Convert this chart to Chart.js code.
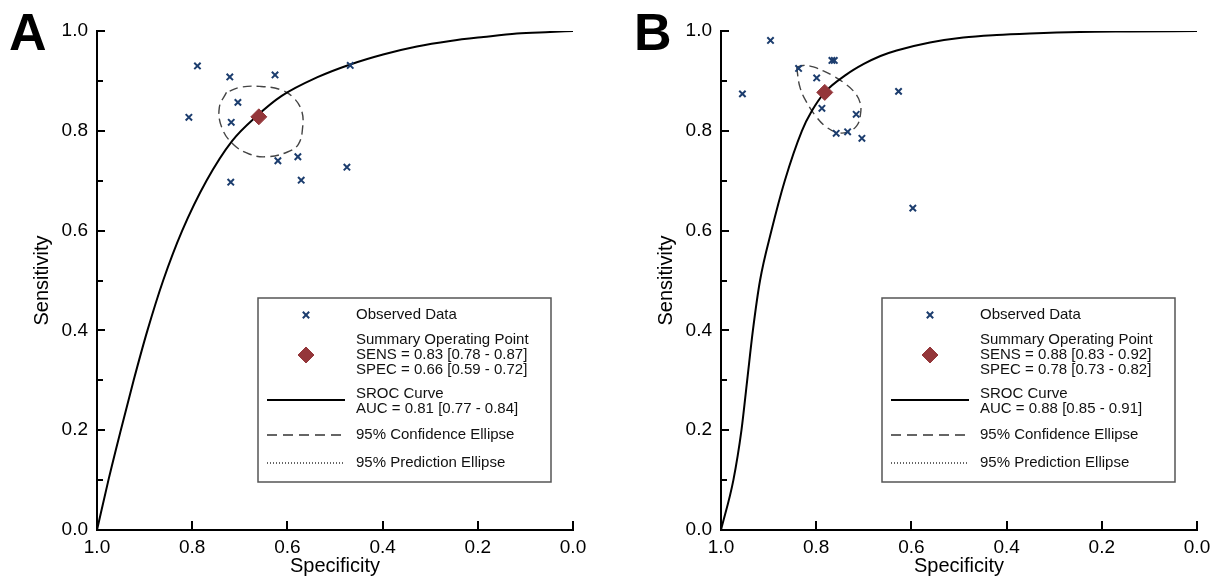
<!DOCTYPE html>
<html>
<head>
<meta charset="utf-8">
<title>SROC curves</title>
<script src="https://cdn.jsdelivr.net/npm/chart.js@4.4.1/dist/chart.umd.min.js"></script>
<style>
  body { margin: 0; background: #fff; width: 1224px; height: 579px; overflow: hidden; position: relative; }
  .panel { position: absolute; top: 0; width: 600px; height: 579px; }
  .tag { position: absolute; top: 6px; font: bold 52px "Liberation Sans", Arial, sans-serif; line-height: 52px; color: #000; }
</style>
</head>
<body>
<div class="panel" style="left:0"><canvas id="chartA" width="600" height="579"></canvas></div>
<div class="panel" style="left:624px"><canvas id="chartB" width="600" height="579"></canvas></div>
<div class="tag" style="left:9px">A</div>
<div class="tag" style="left:634px">B</div>
<script>
// panel A - observed studies
const obsSpecA = [0.789, 0.721, 0.626, 0.468, 0.704, 0.807, 0.718, 0.620, 0.578, 0.475, 0.719, 0.571];
const obsSensA = [0.930, 0.908, 0.912, 0.931, 0.857, 0.827, 0.817, 0.740, 0.748, 0.727, 0.697, 0.701];
const sumSpecA = [0.66];
const sumSensA = [0.828];
// SROC curve A
const curveSpecA = [1.0, 0.976, 0.950, 0.923, 0.894, 0.861, 0.821, 0.770, 0.716, 0.664, 0.612, 0.538, 0.468, 0.399, 0.328, 0.258, 0.188, 0.118, 0.048, 0.0];
const curveSensA = [0.0, 0.1, 0.2, 0.3, 0.4, 0.5, 0.6, 0.7, 0.78, 0.83, 0.87, 0.907, 0.933, 0.953, 0.969, 0.980, 0.988, 0.995, 0.998, 1.0];
// 95% confidence ellipse A
const ellSpecA = [0.728, 0.743, 0.738, 0.714, 0.679, 0.644, 0.601, 0.577, 0.568, 0.570, 0.588, 0.616, 0.658, 0.700, 0.728];
const ellSensA = [0.877, 0.847, 0.807, 0.773, 0.753, 0.748, 0.757, 0.773, 0.807, 0.840, 0.867, 0.883, 0.889, 0.887, 0.877];

// panel B
const obsSpecB = [0.896, 0.955, 0.837, 0.799, 0.767, 0.762, 0.788, 0.716, 0.758, 0.734, 0.704, 0.627, 0.597];
const obsSensB = [0.981, 0.874, 0.925, 0.906, 0.941, 0.941, 0.845, 0.833, 0.795, 0.798, 0.785, 0.879, 0.645];
const sumSpecB = [0.782];
const sumSensB = [0.877];
const curveSpecB = [1.0, 0.974, 0.957, 0.945, 0.933, 0.918, 0.894, 0.866, 0.830, 0.809, 0.782, 0.736, 0.700, 0.665, 0.631, 0.561, 0.491, 0.421, 0.351, 0.246, 0.141, 0.0];
const curveSensB = [0.0, 0.1, 0.2, 0.3, 0.4, 0.5, 0.6, 0.7, 0.8, 0.84, 0.877, 0.913, 0.934, 0.950, 0.961, 0.977, 0.987, 0.992, 0.995, 0.998, 0.999, 1.0];
const ellSpecB = [0.841, 0.834, 0.820, 0.799, 0.778, 0.757, 0.736, 0.715, 0.707, 0.708, 0.722, 0.743, 0.764, 0.785, 0.806, 0.827, 0.841];
const ellSensB = [0.927, 0.887, 0.857, 0.827, 0.807, 0.797, 0.797, 0.810, 0.833, 0.857, 0.880, 0.897, 0.910, 0.920, 0.928, 0.931, 0.927];

const xTicks = [0, 0.2, 0.4, 0.6, 0.8, 1.0];
const legendTextA = ["Observed Data", "Summary Operating Point", "SENS = 0.83 [0.78 - 0.87]", "SPEC = 0.66 [0.59 - 0.72]", "SROC Curve", "AUC = 0.81 [0.77 - 0.84]", "95% Confidence Ellipse", "95% Prediction Ellipse"];
const legendTextB = ["Observed Data", "Summary Operating Point", "SENS = 0.88 [0.83 - 0.92]", "SPEC = 0.78 [0.73 - 0.82]", "SROC Curve", "AUC = 0.88 [0.85 - 0.91]", "95% Confidence Ellipse", "95% Prediction Ellipse"];

const FONT = '"Liberation Sans", Arial, sans-serif';
const CROSS = "#1c3d6e";
const DIAMOND = "#94363a";

function pts(xs, ys) {
  return xs.map(function (x, i) { return { x: x, y: ys[i] }; });
}

// ticks pointing into the plot
const inwardTicks = {
  id: "inwardTicks",
  afterDatasetsDraw(chart) {
    const ctx = chart.ctx;
    const x = chart.scales.x, y = chart.scales.y;
    const a = chart.chartArea;
    ctx.save();
    ctx.strokeStyle = "#000";
    ctx.lineWidth = 2;
    ctx.beginPath();
    x.ticks.forEach(function (t) {
      const px = Math.round(x.getPixelForValue(t.value));
      ctx.moveTo(px, a.bottom);
      ctx.lineTo(px, a.bottom - 9);
    });
    y.ticks.forEach(function (t, i) {
      const py = Math.round(y.getPixelForValue(t.value));
      ctx.moveTo(a.left, py);
      ctx.lineTo(a.left + (i % 2 === 0 ? 8 : 6), py);
    });
    ctx.stroke();
    ctx.restore();
  },
};

// boxed legend like the original software draws it
const boxLegend = {
  id: "boxLegend",
  afterDraw(chart, args, opts) {
    const ctx = chart.ctx;
    const a = chart.chartArea;
    const txt = opts.text;
    const w = 293, h = 184;
    const left = a.right - 22 - w;
    const top = a.bottom - 48 - h;
    ctx.save();
    ctx.fillStyle = "#fff";
    ctx.fillRect(left, top, w, h);
    ctx.strokeStyle = "#555";
    ctx.lineWidth = 1.5;
    ctx.strokeRect(left, top, w, h);

    ctx.fillStyle = DIAMOND;
    ctx.strokeStyle = DIAMOND;
    ctx.lineWidth = 1;
    Chart.helpers.drawPoint(ctx, { pointStyle: "rectRot", radius: 8, borderWidth: 1 }, left + 48, top + 57);

    ctx.strokeStyle = CROSS;
    ctx.lineWidth = 2;
    Chart.helpers.drawPoint(ctx, { pointStyle: "crossRot", radius: 4.5, borderWidth: 2 }, left + 48, top + 17);

    ctx.strokeStyle = "#000";
    ctx.lineWidth = 2;
    ctx.beginPath();
    ctx.moveTo(left + 9, top + 102);
    ctx.lineTo(left + 87, top + 102);
    ctx.stroke();
    ctx.strokeStyle = "#333";
    ctx.lineWidth = 1.3;
    ctx.setLineDash([10, 6]);
    ctx.beginPath();
    ctx.moveTo(left + 9, top + 137);
    ctx.lineTo(left + 87, top + 137);
    ctx.stroke();
    ctx.setLineDash([1, 2]);
    ctx.beginPath();
    ctx.moveTo(left + 9, top + 165);
    ctx.lineTo(left + 87, top + 165);
    ctx.stroke();
    ctx.setLineDash([]);

    ctx.fillStyle = "#111";
    ctx.font = "15px " + FONT;
    ctx.textBaseline = "middle";
    const rows = [17, 42, 57, 72, 96, 111, 137, 165];
    txt.forEach(function (s, i) {
      ctx.fillText(s, left + 98, top + rows[i]);
    });
    ctx.restore();
  },
};

function makePanel(id, obsSpec, obsSens, sumSpec, sumSens, cSpec, cSens, eSpec, eSens, legendText) {
  return new Chart(document.getElementById(id), {
    type: "scatter",
    data: {
      datasets: [
        {
          label: "Summary Operating Point",
          data: pts(sumSpec, sumSens),
          pointStyle: "rectRot",
          pointRadius: 8,
          backgroundColor: DIAMOND,
          borderColor: DIAMOND,
          borderWidth: 1,
        },
        {
          label: "Observed Data",
          data: pts(obsSpec, obsSens),
          pointStyle: "crossRot",
          pointRadius: 4.5,
          borderColor: CROSS,
          borderWidth: 2,
        },
        {
          label: "SROC Curve",
          data: pts(cSpec, cSens),
          showLine: true,
          pointRadius: 0,
          borderColor: "#000",
          borderWidth: 2,
          cubicInterpolationMode: "monotone",
        },
        {
          label: "95% Confidence Ellipse",
          data: pts(eSpec, eSens),
          showLine: true,
          pointRadius: 0,
          borderColor: "#444",
          borderWidth: 1.4,
          borderDash: [9, 5],
          tension: 0.4,
        },
      ],
    },
    options: {
      responsive: false,
      animation: false,
      devicePixelRatio: 1,
      layout: { padding: { left: 0, top: 31, right: 27, bottom: 0 } },
      plugins: {
        legend: { display: false },
        tooltip: { enabled: false },
        boxLegend: { text: legendText },
      },
      scales: {
        x: {
          type: "linear",
          min: 0,
          max: 1,
          reverse: true,
          afterFit: function (s) { s.height = 49; },
          afterBuildTicks: function (s) { s.ticks = xTicks.map(function (v) { return { value: v }; }); },
          grid: { display: false, drawTicks: false },
          border: { display: true, color: "#000", width: 2 },
          ticks: {
            padding: 6,
            color: "#000",
            font: { family: FONT, size: 19 },
            callback: function (v) { return v.toFixed(1); },
          },
          title: {
            display: true,
            text: "Specificity",
            color: "#000",
            font: { family: FONT, size: 20 },
            padding: { top: 0, bottom: 1 },
          },
        },
        y: {
          type: "linear",
          min: 0,
          max: 1,
          afterFit: function (s) { s.width = 97; },
          grid: { display: false, drawTicks: false },
          border: { display: true, color: "#000", width: 2 },
          ticks: {
            stepSize: 0.1,
            autoSkip: false,
            padding: 9,
            color: "#000",
            font: { family: FONT, size: 19 },
            callback: function (v, i) { return i % 2 === 0 ? v.toFixed(1) : ""; },
          },
          title: {
            display: true,
            text: "Sensitivity",
            color: "#000",
            font: { family: FONT, size: 20 },
            padding: { top: 30, bottom: 0 },
          },
        },
      },
    },
    plugins: [inwardTicks, boxLegend],
  });
}

makePanel("chartA", obsSpecA, obsSensA, sumSpecA, sumSensA, curveSpecA, curveSensA, ellSpecA, ellSensA, legendTextA);
makePanel("chartB", obsSpecB, obsSensB, sumSpecB, sumSensB, curveSpecB, curveSensB, ellSpecB, ellSensB, legendTextB);
</script>
</body>
</html>
